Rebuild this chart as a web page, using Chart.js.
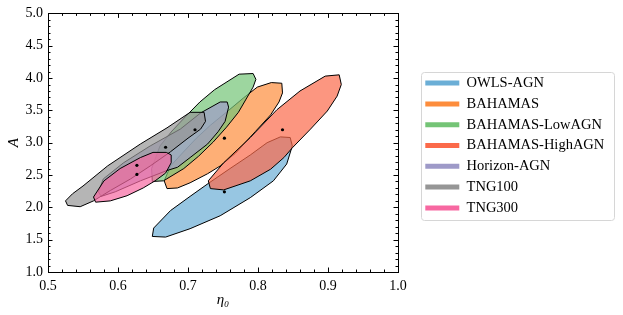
<!DOCTYPE html>
<html lang="en">
<head>
<meta charset="UTF-8">
<title>eta0 vs A contours</title>
<script src="https://cdn.jsdelivr.net/npm/chart.js"></script>
<style>
    html, body { margin: 0; padding: 0; background: #fff; }
</style>
</head>
<body>
<canvas id="contours" width="623" height="315"></canvas>
<script>
    // model names and colours
    const names = ['OWLS-AGN', 'BAHAMAS', 'BAHAMAS-LowAGN', 'BAHAMAS-HighAGN', 'Horizon-AGN', 'TNG100', 'TNG300'];
    const colors = ['#6baed6', '#fd8d3c', '#74c476', '#fb6a4a', '#9e9ac8', '#969696', '#f768a1'];

    // contour outlines (eta0, A)
    const owlsEta = [0.649, 0.651, 0.675, 0.703, 0.729, 0.760, 0.789, 0.813, 0.832, 0.846, 0.849, 0.841, 0.822, 0.789, 0.746, 0.703, 0.668];
    const owlsA   = [1.55, 1.68, 1.95, 2.17, 2.37, 2.60, 2.81, 3.00, 3.09, 3.08, 2.95, 2.67, 2.41, 2.15, 1.87, 1.67, 1.54];

    const bahamasEta = [0.666, 0.670, 0.685, 0.703, 0.728, 0.746, 0.768, 0.796, 0.818, 0.830, 0.835, 0.834, 0.819, 0.799, 0.779, 0.758, 0.732, 0.712, 0.692, 0.675];
    const bahamasA   = [2.41, 2.29, 2.30, 2.38, 2.52, 2.64, 2.84, 3.17, 3.43, 3.63, 3.77, 3.92, 3.93, 3.86, 3.69, 3.50, 3.27, 3.07, 2.84, 2.64];

    const lowEta = [0.793, 0.797, 0.793, 0.772, 0.755, 0.736, 0.715, 0.694, 0.665, 0.649, 0.648, 0.660, 0.677, 0.697, 0.717, 0.738, 0.773];
    const lowA   = [4.07, 3.98, 3.86, 3.47, 3.24, 3.01, 2.79, 2.60, 2.41, 2.40, 2.60, 2.95, 3.18, 3.41, 3.63, 3.82, 4.06];

    const highEta = [0.729, 0.732, 0.751, 0.789, 0.818, 0.837, 0.849, 0.875, 0.899, 0.913, 0.919, 0.916, 0.896, 0.860, 0.827, 0.789, 0.751];
    const highA   = [2.41, 2.29, 2.27, 2.41, 2.59, 2.77, 2.92, 3.21, 3.49, 3.72, 3.90, 4.05, 4.03, 3.80, 3.51, 3.08, 2.69];

    const horizonEta = [0.572, 0.576, 0.596, 0.632, 0.670, 0.685, 0.703, 0.728, 0.743, 0.753, 0.758, 0.756, 0.746, 0.718, 0.689, 0.646, 0.608, 0.579];
    const horizonA   = [2.24, 2.17, 2.24, 2.41, 2.57, 2.62, 2.77, 2.98, 3.17, 3.33, 3.55, 3.63, 3.63, 3.46, 3.21, 2.95, 2.69, 2.44];

    const tng100Eta = [0.525, 0.528, 0.546, 0.565, 0.589, 0.618, 0.646, 0.675, 0.700, 0.718, 0.725, 0.723, 0.703, 0.670, 0.632, 0.585, 0.550, 0.535];
    const tng100A   = [2.10, 2.03, 2.01, 2.10, 2.26, 2.44, 2.64, 2.86, 3.07, 3.21, 3.33, 3.47, 3.47, 3.23, 2.98, 2.64, 2.33, 2.21];

    const tng300Eta = [0.565, 0.568, 0.589, 0.613, 0.636, 0.653, 0.668, 0.676, 0.676, 0.669, 0.650, 0.632, 0.603, 0.580];
    const tng300A   = [2.16, 2.08, 2.10, 2.18, 2.30, 2.41, 2.53, 2.69, 2.81, 2.85, 2.85, 2.77, 2.60, 2.41];

    // best-fit points, same order as names
    const bestEta = [0.752, 0.752, 0.710, 0.835, 0.668, 0.627, 0.627];
    const bestA   = [2.24, 3.07, 3.20, 3.20, 2.93, 2.65, 2.51];

    const outlines = [
        [owlsEta, owlsA], [bahamasEta, bahamasA], [lowEta, lowA], [highEta, highA],
        [horizonEta, horizonA], [tng100Eta, tng100A], [tng300Eta, tng300A]
    ];

    const serif = "'Liberation Serif', 'DejaVu Serif', serif";

    function withAlpha(hex, a) {
        const n = parseInt(hex.slice(1), 16);
        return `rgba(${n >> 16}, ${(n >> 8) & 255}, ${n & 255}, ${a})`;
    }

    const datasets = outlines.map(([xs, ys], i) => {
        const pts = xs.map((x, k) => ({ x: x, y: ys[k] }));
        pts.push(pts[0]); // close the polygon
        return {
            label: names[i],
            data: pts,
            borderColor: '#000',
            borderWidth: 1,
            backgroundColor: withAlpha(colors[i], 0.7),
            fill: 'shape',
            tension: 0,
            pointRadius: 0,
            order: names.length - i   // lower order is drawn on top
        };
    });

    datasets.push({
        label: 'best',
        data: bestEta.map((x, k) => ({ x: x, y: bestA[k] })),
        showLine: false,
        pointRadius: 1.6,
        pointBackgroundColor: '#000',
        pointBorderWidth: 0,
        order: 0
    });

    // inward ticks on all four sides plus the frame
    const frameTicks = {
        id: 'frameTicks',
        afterDatasetsDraw(chart) {
            const { ctx, chartArea: a, scales: { x, y } } = chart;
            ctx.save();
            ctx.strokeStyle = '#000';
            ctx.lineWidth = 1;
            ctx.beginPath();
            for (let i = 0; i <= 25; i++) {
                const px = Math.round(x.getPixelForValue(0.5 + i * 0.02)) + 0.5;
                const len = i % 5 === 0 ? 4.5 : 2.5;
                ctx.moveTo(px, a.bottom); ctx.lineTo(px, a.bottom - len);
                ctx.moveTo(px, a.top); ctx.lineTo(px, a.top + len);
            }
            for (let i = 0; i <= 40; i++) {
                const py = Math.round(y.getPixelForValue(1 + i * 0.1)) + 0.5;
                const len = i % 5 === 0 ? 4.5 : 2.5;
                ctx.moveTo(a.left, py); ctx.lineTo(a.left + len, py);
                ctx.moveTo(a.right, py); ctx.lineTo(a.right - len, py);
            }
            ctx.stroke();
            ctx.strokeRect(Math.round(a.left) + 0.5, Math.round(a.top) + 0.5,
                           Math.round(a.width), Math.round(a.height));
            ctx.restore();
        }
    };

    // fixed legend width, moved next to the plot, with a light frame
    const legendBox = {
        id: 'legendBox',
        afterInit(chart) {
            const lg = chart.legend;
            const fit = lg.fit;
            lg.fit = function () { fit.call(this); this.width = 225; };
        },
        afterLayout(chart) {
            const lg = chart.legend;
            lg.left += 21; lg.right += 21;
            lg.top -= 18; lg.bottom -= 18;
        },
        afterDraw(chart) {
            const hb = chart.legend.legendHitBoxes;
            if (!hb || !hb.length) return;
            const first = hb[0], last = hb[hb.length - 1];
            const x0 = first.left - 4, x1 = x0 + 193;
            const y0 = first.top + first.height / 2 - 11;
            const y1 = last.top + last.height / 2 + 12.5;
            const ctx = chart.ctx;
            ctx.save();
            ctx.strokeStyle = '#d6d6d6';
            ctx.lineWidth = 1;
            ctx.beginPath();
            ctx.roundRect(Math.round(x0) + 0.5, Math.round(y0) + 0.5, Math.round(x1 - x0), Math.round(y1 - y0), 3);
            ctx.stroke();
            ctx.restore();
        }
    };

    new Chart(document.getElementById('contours'), {
        type: 'line',
        data: { datasets: datasets },
        options: {
            responsive: false,
            animation: false,
            layout: { padding: { top: 12, right: 0, bottom: 0, left: 0 } },
            scales: {
                x: {
                    type: 'linear',
                    min: 0.5,
                    max: 1.0,
                    grid: { display: false, drawTicks: false },
                    border: { display: false },
                    ticks: {
                        stepSize: 0.1,
                        padding: 6,
                        color: '#000',
                        font: { family: serif, size: 14 },
                        callback: v => v.toFixed(1)
                    },
                    title: {
                        display: true,
                        text: 'η₀',
                        color: '#000',
                        font: { family: serif, size: 15, style: 'italic' },
                        padding: { top: 0, bottom: 6 }
                    },
                    afterFit: s => { s.height = 43; }
                },
                y: {
                    type: 'linear',
                    min: 1,
                    max: 5,
                    grid: { display: false, drawTicks: false },
                    border: { display: false },
                    ticks: {
                        stepSize: 0.5,
                        padding: 5,
                        color: '#000',
                        font: { family: serif, size: 14 },
                        callback: v => v.toFixed(1)
                    },
                    title: {
                        display: true,
                        text: 'A',
                        color: '#000',
                        font: { family: serif, size: 15, style: 'italic' },
                        padding: { top: 5, bottom: 0 }
                    },
                    afterFit: s => { s.width = 48; }
                }
            },
            plugins: {
                tooltip: { enabled: false },
                legend: {
                    position: 'right',
                    align: 'center',
                    labels: {
                        boxWidth: 34,
                        boxHeight: 5,
                        padding: 6.3,
                        color: '#000',
                        font: { family: serif, size: 14.5 },
                        generateLabels: () => names.map((n, i) => ({
                            text: n,
                            fillStyle: colors[i],
                            strokeStyle: colors[i],
                            lineWidth: 0,
                            hidden: false,
                            datasetIndex: i
                        }))
                    }
                }
            }
        },
        plugins: [frameTicks, legendBox]
    });
</script>
</body>
</html>
